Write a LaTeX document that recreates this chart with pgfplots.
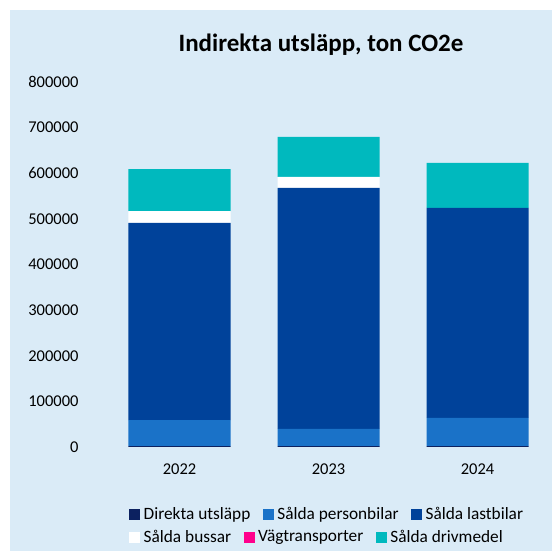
\documentclass[border=0pt]{standalone}
\usepackage{fontspec}
\setmainfont{Carlito}
\usepackage{pgfplots}
\pgfplotsset{compat=1.18}
\definecolor{panel}{RGB}{218,235,247}
\definecolor{direkta}{RGB}{12,33,96}
\definecolor{personbil}{RGB}{26,114,200}
\definecolor{lastbil}{RGB}{0,66,154}
\definecolor{vagtr}{RGB}{255,0,140}
\definecolor{drivmedel}{RGB}{0,185,190}

% values in ton CO2e
\pgfplotstableread{
x direkta personbilar lastbilar bussar vag drivmedel
0 2000 57000 432000 26000 0 92000
1 2000 37500 528500 24000 0 88000
2 2000 61600 460400 0 0 98500
}\utslapp

\begin{document}
\begin{tikzpicture}
\useasboundingbox (0,0) rectangle (552bp,551bp);
\fill[white] (0,0) rectangle (552bp,551bp);
\fill[panel] (10bp,0) rectangle (552bp,541bp);
\begin{axis}[
    at={(105bp,104bp)}, anchor=south west,
    scale only axis, width=447bp, height=365bp,
    ybar stacked, bar width=102bp,
    xmin=-0.5, xmax=2.5, ymin=0, ymax=800000,
    xtick={0,1,2}, xticklabels={2022,2023,2024},
    ytick={0,100000,...,800000},
    scaled y ticks=false,
    /pgf/number format/assume math mode=true,
    yticklabel={\pgfmathprintnumber[fixed,1000 sep={}]{\tick}},
    axis line style={draw=none}, major tick style={draw=none},
    tick label style={font=\fontsize{16.5bp}{19bp}\selectfont, text=black},
    yticklabel style={xshift=-23bp},
    xticklabel style={yshift=-13bp},
    legend image code/.code={\fill[#1] (0bp,-5.5bp) rectangle (11bp,5.5bp);},
    legend columns=3,
    legend style={at={(0.0537,-0.185)}, anchor=west, draw=none, fill=none,
        inner sep=0pt, font=\fontsize{17.3bp}{20bp}\selectfont,
        nodes={inner xsep=3.5bp},
        /tikz/every even column/.append style={column sep=9bp}},
]
\addplot[draw=none, fill=direkta] table[x=x, y=direkta] {\utslapp};
\addplot[draw=none, fill=personbil] table[x=x, y=personbilar] {\utslapp};
\addplot[draw=none, fill=lastbil] table[x=x, y=lastbilar] {\utslapp};
\addplot[draw=none, fill=white] table[x=x, y=bussar] {\utslapp};
\addplot[draw=none, fill=vagtr] table[x=x, y=vag] {\utslapp};
\addplot[draw=none, fill=drivmedel] table[x=x, y=drivmedel] {\utslapp};
\legend{Direkta utsläpp, Sålda personbilar, Sålda lastbilar}
\end{axis}
% second legend row, in the flow layout of the original
\begin{axis}[
    at={(105bp,104bp)}, anchor=south west,
    scale only axis, width=447bp, height=365bp,
    hide axis, xmin=0, xmax=1, ymin=0, ymax=1,
    legend image code/.code={\fill[#1] (0bp,-5.5bp) rectangle (11bp,5.5bp);},
    legend columns=3,
    legend style={at={(0.0537,-0.2466)}, anchor=west, draw=none, fill=none,
        inner sep=0pt, font=\fontsize{17.3bp}{20bp}\selectfont,
        nodes={inner xsep=3.5bp},
        /tikz/every even column/.append style={column sep=9bp}},
]
\addlegendimage{draw=none, fill=white}
\addlegendentry{Sålda bussar}
\addlegendimage{draw=none, fill=vagtr}
\addlegendentry{Vägtransporter}
\addlegendimage{draw=none, fill=drivmedel}
\addlegendentry{Sålda drivmedel}
\end{axis}
\node[font=\bfseries\fontsize{25bp}{30bp}\selectfont] at (321bp,506bp) {Indirekta utsläpp, ton CO2e};
\end{tikzpicture}
\end{document}
